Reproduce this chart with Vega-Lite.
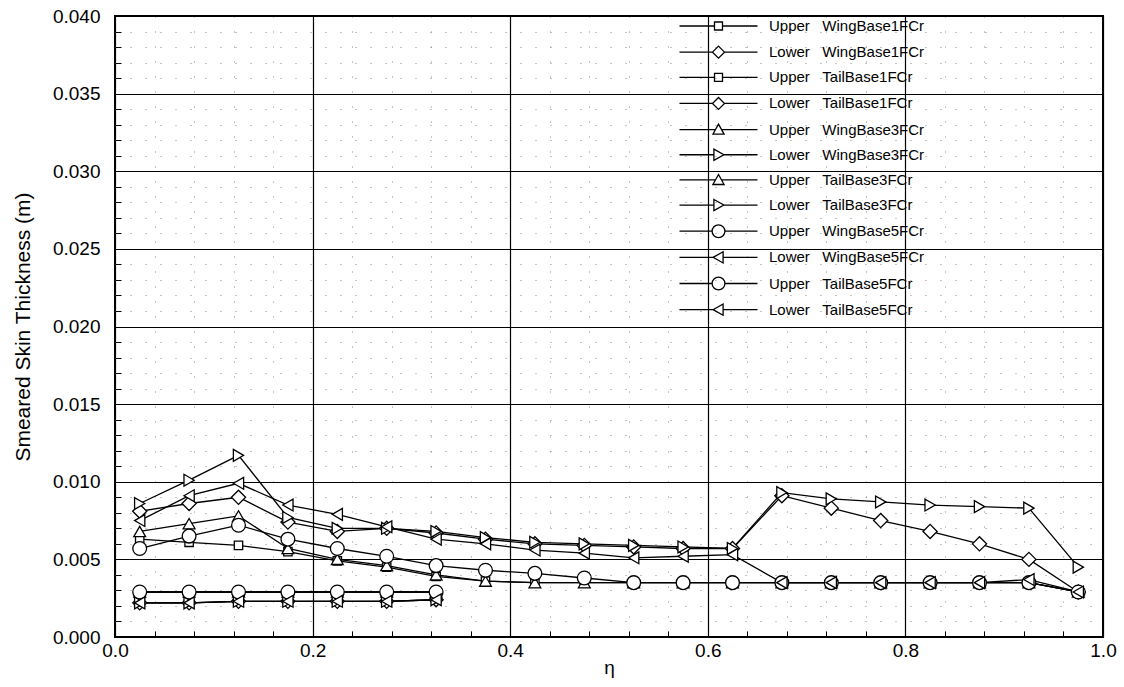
{
 "$schema": "https://vega.github.io/schema/vega-lite/v6.json",
 "width": 988, "height": 621,
 "autosize": {"type": "none"},
 "padding": {"left": 115, "top": 16, "right": 21, "bottom": 50},
 "background": "white",
 "config": {
  "font": "Liberation Sans",
  "view": {"stroke": "black", "strokeWidth": 2},
  "axis": {"labelColor": "black", "titleColor": "black", "titleFontWeight": "normal", "labelFlush": false}
 },
 "datasets": {
  "pts": [
   {"series":"Upper WingBase1FCr","eta":0.025,"thickness":0.0063},{"series":"Upper WingBase1FCr","eta":0.075,"thickness":0.0061},{"series":"Upper WingBase1FCr","eta":0.125,"thickness":0.0059},{"series":"Upper WingBase1FCr","eta":0.175,"thickness":0.0055},{"series":"Upper WingBase1FCr","eta":0.225,"thickness":0.0049},{"series":"Upper WingBase1FCr","eta":0.275,"thickness":0.0045},{"series":"Upper WingBase1FCr","eta":0.325,"thickness":0.0039},{"series":"Upper WingBase1FCr","eta":0.375,"thickness":0.0036},{"series":"Upper WingBase1FCr","eta":0.425,"thickness":0.0035},{"series":"Upper WingBase1FCr","eta":0.475,"thickness":0.0035},{"series":"Upper WingBase1FCr","eta":0.525,"thickness":0.0035},{"series":"Upper WingBase1FCr","eta":0.575,"thickness":0.0035},{"series":"Upper WingBase1FCr","eta":0.625,"thickness":0.0035},{"series":"Upper WingBase1FCr","eta":0.675,"thickness":0.0035},{"series":"Upper WingBase1FCr","eta":0.725,"thickness":0.0035},{"series":"Upper WingBase1FCr","eta":0.775,"thickness":0.0035},{"series":"Upper WingBase1FCr","eta":0.825,"thickness":0.0035},{"series":"Upper WingBase1FCr","eta":0.875,"thickness":0.0035},{"series":"Upper WingBase1FCr","eta":0.925,"thickness":0.0035},{"series":"Upper WingBase1FCr","eta":0.975,"thickness":0.0029},
   {"series":"Lower WingBase1FCr","eta":0.025,"thickness":0.0081},{"series":"Lower WingBase1FCr","eta":0.075,"thickness":0.0086},{"series":"Lower WingBase1FCr","eta":0.125,"thickness":0.0090},{"series":"Lower WingBase1FCr","eta":0.175,"thickness":0.0074},{"series":"Lower WingBase1FCr","eta":0.225,"thickness":0.0068},{"series":"Lower WingBase1FCr","eta":0.275,"thickness":0.0070},{"series":"Lower WingBase1FCr","eta":0.325,"thickness":0.0067},{"series":"Lower WingBase1FCr","eta":0.375,"thickness":0.0063},{"series":"Lower WingBase1FCr","eta":0.425,"thickness":0.0060},{"series":"Lower WingBase1FCr","eta":0.475,"thickness":0.0059},{"series":"Lower WingBase1FCr","eta":0.525,"thickness":0.0058},{"series":"Lower WingBase1FCr","eta":0.575,"thickness":0.0057},{"series":"Lower WingBase1FCr","eta":0.625,"thickness":0.0057},{"series":"Lower WingBase1FCr","eta":0.675,"thickness":0.0091},{"series":"Lower WingBase1FCr","eta":0.725,"thickness":0.0083},{"series":"Lower WingBase1FCr","eta":0.775,"thickness":0.0075},{"series":"Lower WingBase1FCr","eta":0.825,"thickness":0.0068},{"series":"Lower WingBase1FCr","eta":0.875,"thickness":0.0060},{"series":"Lower WingBase1FCr","eta":0.925,"thickness":0.0050},{"series":"Lower WingBase1FCr","eta":0.975,"thickness":0.0029},
   {"series":"Upper TailBase1FCr","eta":0.025,"thickness":0.0029},{"series":"Upper TailBase1FCr","eta":0.075,"thickness":0.0029},{"series":"Upper TailBase1FCr","eta":0.125,"thickness":0.0029},{"series":"Upper TailBase1FCr","eta":0.175,"thickness":0.0029},{"series":"Upper TailBase1FCr","eta":0.225,"thickness":0.0029},{"series":"Upper TailBase1FCr","eta":0.275,"thickness":0.0029},{"series":"Upper TailBase1FCr","eta":0.325,"thickness":0.0029},
   {"series":"Lower TailBase1FCr","eta":0.025,"thickness":0.0022},{"series":"Lower TailBase1FCr","eta":0.075,"thickness":0.0022},{"series":"Lower TailBase1FCr","eta":0.125,"thickness":0.0023},{"series":"Lower TailBase1FCr","eta":0.175,"thickness":0.0023},{"series":"Lower TailBase1FCr","eta":0.225,"thickness":0.0023},{"series":"Lower TailBase1FCr","eta":0.275,"thickness":0.0023},{"series":"Lower TailBase1FCr","eta":0.325,"thickness":0.0024},
   {"series":"Upper WingBase3FCr","eta":0.025,"thickness":0.0068},{"series":"Upper WingBase3FCr","eta":0.075,"thickness":0.0073},{"series":"Upper WingBase3FCr","eta":0.125,"thickness":0.0078},{"series":"Upper WingBase3FCr","eta":0.175,"thickness":0.0057},{"series":"Upper WingBase3FCr","eta":0.225,"thickness":0.0050},{"series":"Upper WingBase3FCr","eta":0.275,"thickness":0.0046},{"series":"Upper WingBase3FCr","eta":0.325,"thickness":0.0040},{"series":"Upper WingBase3FCr","eta":0.375,"thickness":0.0036},{"series":"Upper WingBase3FCr","eta":0.425,"thickness":0.0035},{"series":"Upper WingBase3FCr","eta":0.475,"thickness":0.0035},{"series":"Upper WingBase3FCr","eta":0.525,"thickness":0.0035},{"series":"Upper WingBase3FCr","eta":0.575,"thickness":0.0035},{"series":"Upper WingBase3FCr","eta":0.625,"thickness":0.0035},{"series":"Upper WingBase3FCr","eta":0.675,"thickness":0.0035},{"series":"Upper WingBase3FCr","eta":0.725,"thickness":0.0035},{"series":"Upper WingBase3FCr","eta":0.775,"thickness":0.0035},{"series":"Upper WingBase3FCr","eta":0.825,"thickness":0.0035},{"series":"Upper WingBase3FCr","eta":0.875,"thickness":0.0035},{"series":"Upper WingBase3FCr","eta":0.925,"thickness":0.0035},{"series":"Upper WingBase3FCr","eta":0.975,"thickness":0.0029},
   {"series":"Lower WingBase3FCr","eta":0.025,"thickness":0.0086},{"series":"Lower WingBase3FCr","eta":0.075,"thickness":0.0101},{"series":"Lower WingBase3FCr","eta":0.125,"thickness":0.0117},{"series":"Lower WingBase3FCr","eta":0.175,"thickness":0.0077},{"series":"Lower WingBase3FCr","eta":0.225,"thickness":0.0070},{"series":"Lower WingBase3FCr","eta":0.275,"thickness":0.0070},{"series":"Lower WingBase3FCr","eta":0.325,"thickness":0.0068},{"series":"Lower WingBase3FCr","eta":0.375,"thickness":0.0064},{"series":"Lower WingBase3FCr","eta":0.425,"thickness":0.0061},{"series":"Lower WingBase3FCr","eta":0.475,"thickness":0.0060},{"series":"Lower WingBase3FCr","eta":0.525,"thickness":0.0059},{"series":"Lower WingBase3FCr","eta":0.575,"thickness":0.0058},{"series":"Lower WingBase3FCr","eta":0.625,"thickness":0.0057},{"series":"Lower WingBase3FCr","eta":0.675,"thickness":0.0093},{"series":"Lower WingBase3FCr","eta":0.725,"thickness":0.0089},{"series":"Lower WingBase3FCr","eta":0.775,"thickness":0.0087},{"series":"Lower WingBase3FCr","eta":0.825,"thickness":0.0085},{"series":"Lower WingBase3FCr","eta":0.875,"thickness":0.0084},{"series":"Lower WingBase3FCr","eta":0.925,"thickness":0.0083},{"series":"Lower WingBase3FCr","eta":0.975,"thickness":0.0045},
   {"series":"Upper TailBase3FCr","eta":0.025,"thickness":0.0029},{"series":"Upper TailBase3FCr","eta":0.075,"thickness":0.0029},{"series":"Upper TailBase3FCr","eta":0.125,"thickness":0.0029},{"series":"Upper TailBase3FCr","eta":0.175,"thickness":0.0029},{"series":"Upper TailBase3FCr","eta":0.225,"thickness":0.0029},{"series":"Upper TailBase3FCr","eta":0.275,"thickness":0.0029},{"series":"Upper TailBase3FCr","eta":0.325,"thickness":0.0029},
   {"series":"Lower TailBase3FCr","eta":0.025,"thickness":0.0022},{"series":"Lower TailBase3FCr","eta":0.075,"thickness":0.0022},{"series":"Lower TailBase3FCr","eta":0.125,"thickness":0.0023},{"series":"Lower TailBase3FCr","eta":0.175,"thickness":0.0023},{"series":"Lower TailBase3FCr","eta":0.225,"thickness":0.0023},{"series":"Lower TailBase3FCr","eta":0.275,"thickness":0.0023},{"series":"Lower TailBase3FCr","eta":0.325,"thickness":0.0024},
   {"series":"Upper WingBase5FCr","eta":0.025,"thickness":0.0057},{"series":"Upper WingBase5FCr","eta":0.075,"thickness":0.0065},{"series":"Upper WingBase5FCr","eta":0.125,"thickness":0.0072},{"series":"Upper WingBase5FCr","eta":0.175,"thickness":0.0063},{"series":"Upper WingBase5FCr","eta":0.225,"thickness":0.0057},{"series":"Upper WingBase5FCr","eta":0.275,"thickness":0.0052},{"series":"Upper WingBase5FCr","eta":0.325,"thickness":0.0046},{"series":"Upper WingBase5FCr","eta":0.375,"thickness":0.0043},{"series":"Upper WingBase5FCr","eta":0.425,"thickness":0.0041},{"series":"Upper WingBase5FCr","eta":0.475,"thickness":0.0038},{"series":"Upper WingBase5FCr","eta":0.525,"thickness":0.0035},{"series":"Upper WingBase5FCr","eta":0.575,"thickness":0.0035},{"series":"Upper WingBase5FCr","eta":0.625,"thickness":0.0035},{"series":"Upper WingBase5FCr","eta":0.675,"thickness":0.0035},{"series":"Upper WingBase5FCr","eta":0.725,"thickness":0.0035},{"series":"Upper WingBase5FCr","eta":0.775,"thickness":0.0035},{"series":"Upper WingBase5FCr","eta":0.825,"thickness":0.0035},{"series":"Upper WingBase5FCr","eta":0.875,"thickness":0.0035},{"series":"Upper WingBase5FCr","eta":0.925,"thickness":0.0035},{"series":"Upper WingBase5FCr","eta":0.975,"thickness":0.0029},
   {"series":"Lower WingBase5FCr","eta":0.025,"thickness":0.0075},{"series":"Lower WingBase5FCr","eta":0.075,"thickness":0.0091},{"series":"Lower WingBase5FCr","eta":0.125,"thickness":0.0099},{"series":"Lower WingBase5FCr","eta":0.175,"thickness":0.0085},{"series":"Lower WingBase5FCr","eta":0.225,"thickness":0.0079},{"series":"Lower WingBase5FCr","eta":0.275,"thickness":0.0071},{"series":"Lower WingBase5FCr","eta":0.325,"thickness":0.0063},{"series":"Lower WingBase5FCr","eta":0.375,"thickness":0.0060},{"series":"Lower WingBase5FCr","eta":0.425,"thickness":0.0056},{"series":"Lower WingBase5FCr","eta":0.475,"thickness":0.0054},{"series":"Lower WingBase5FCr","eta":0.525,"thickness":0.0051},{"series":"Lower WingBase5FCr","eta":0.575,"thickness":0.0052},{"series":"Lower WingBase5FCr","eta":0.625,"thickness":0.0053},{"series":"Lower WingBase5FCr","eta":0.675,"thickness":0.0035},{"series":"Lower WingBase5FCr","eta":0.725,"thickness":0.0035},{"series":"Lower WingBase5FCr","eta":0.775,"thickness":0.0035},{"series":"Lower WingBase5FCr","eta":0.825,"thickness":0.0035},{"series":"Lower WingBase5FCr","eta":0.875,"thickness":0.0035},{"series":"Lower WingBase5FCr","eta":0.925,"thickness":0.0037},{"series":"Lower WingBase5FCr","eta":0.975,"thickness":0.0029},
   {"series":"Upper TailBase5FCr","eta":0.025,"thickness":0.0029},{"series":"Upper TailBase5FCr","eta":0.075,"thickness":0.0029},{"series":"Upper TailBase5FCr","eta":0.125,"thickness":0.0029},{"series":"Upper TailBase5FCr","eta":0.175,"thickness":0.0029},{"series":"Upper TailBase5FCr","eta":0.225,"thickness":0.0029},{"series":"Upper TailBase5FCr","eta":0.275,"thickness":0.0029},{"series":"Upper TailBase5FCr","eta":0.325,"thickness":0.0029},
   {"series":"Lower TailBase5FCr","eta":0.025,"thickness":0.0022},{"series":"Lower TailBase5FCr","eta":0.075,"thickness":0.0022},{"series":"Lower TailBase5FCr","eta":0.125,"thickness":0.0023},{"series":"Lower TailBase5FCr","eta":0.175,"thickness":0.0023},{"series":"Lower TailBase5FCr","eta":0.225,"thickness":0.0023},{"series":"Lower TailBase5FCr","eta":0.275,"thickness":0.0023},{"series":"Lower TailBase5FCr","eta":0.325,"thickness":0.0024}
  ]
 },
 "data": {"name": "pts"},
 "layer": [
  {
   "mark": {"type": "line", "stroke": "black", "strokeWidth": 1.3},
   "encoding": {
    "x": {"field": "eta", "type": "quantitative", "scale": {"domain": [0, 1], "nice": false, "zero": false},
     "axis": {"orient": "bottom", "values": [0, 0.2, 0.4, 0.6, 0.8, 1], "format": ".1f", "grid": true, "gridColor": "black", "gridWidth": 1.2, "gridOpacity": 1, "ticks": false, "domain": false, "labelFontSize": 19, "labelPadding": 4, "title": "η", "titleFontSize": 19, "titlePadding": -2, "zindex": 0}},
    "y": {"field": "thickness", "type": "quantitative", "scale": {"domain": [0, 0.04], "nice": false, "zero": false},
     "axis": {"orient": "left", "values": [0, 0.005, 0.01, 0.015, 0.02, 0.025, 0.03, 0.035, 0.04], "format": ".3f", "grid": true, "gridColor": "black", "gridWidth": 1.2, "gridOpacity": 1, "ticks": false, "domain": false, "labelFontSize": 19, "labelPadding": 15, "title": "Smeared Skin Thickness (m)", "titleFontSize": 21, "titlePadding": 19, "zindex": 0}},
    "detail": {"field": "series", "type": "nominal"}
   }
  },
  {
   "transform": [{"filter": "indexof(datum.series, 'Upper') === 0 && indexof(datum.series, '1FCr') >= 0"}],
   "mark": {"type": "point", "filled": true, "fill": "white", "stroke": "black", "strokeWidth": 1.3, "opacity": 1, "size": 70, "shape": "square"},
   "encoding": {
    "x": {"field": "eta", "type": "quantitative", "scale": {"domain": [0, 1], "nice": false, "zero": false},
     "axis": {"orient": "bottom", "values": [0.04, 0.08, 0.12, 0.16, 0.24, 0.28, 0.32, 0.36, 0.44, 0.48, 0.52, 0.56, 0.64, 0.68, 0.72, 0.76, 0.84, 0.88, 0.92, 0.96], "grid": true, "gridColor": "#8a8a8a", "gridDash": [1, 14], "gridWidth": 1, "ticks": true, "tickSize": -6, "tickColor": "black", "tickWidth": 1, "labels": false, "domain": false, "title": null, "zindex": 0}},
    "y": {"field": "thickness", "type": "quantitative", "scale": {"domain": [0, 0.04], "nice": false, "zero": false},
     "axis": {"orient": "left", "values": [0.001, 0.002, 0.003, 0.004, 0.006, 0.007, 0.008, 0.009, 0.011, 0.012, 0.013, 0.014, 0.016, 0.017, 0.018, 0.019, 0.021, 0.022, 0.023, 0.024, 0.026, 0.027, 0.028, 0.029, 0.031, 0.032, 0.033, 0.034, 0.036, 0.037, 0.038, 0.039], "grid": true, "gridColor": "#8a8a8a", "gridDash": [1, 14], "gridWidth": 1, "ticks": true, "tickSize": -6, "tickColor": "black", "tickWidth": 1, "labels": false, "domain": false, "title": null, "zindex": 0}},
    "detail": {"field": "series", "type": "nominal"}
   }
  },
  {
   "transform": [{"filter": "indexof(datum.series, 'Lower') === 0 && indexof(datum.series, '1FCr') >= 0"}],
   "mark": {"type": "point", "filled": true, "fill": "white", "stroke": "black", "strokeWidth": 1.3, "opacity": 1, "size": 200, "shape": "diamond"},
   "encoding": {
    "x": {"field": "eta", "type": "quantitative", "scale": {"domain": [0, 1], "nice": false, "zero": false}, "axis": null},
    "y": {"field": "thickness", "type": "quantitative", "scale": {"domain": [0, 0.04], "nice": false, "zero": false}, "axis": null},
    "detail": {"field": "series", "type": "nominal"}
   }
  },
  {
   "transform": [{"filter": "indexof(datum.series, 'Upper') === 0 && indexof(datum.series, '3FCr') >= 0"}],
   "mark": {"type": "point", "filled": true, "fill": "white", "stroke": "black", "strokeWidth": 1.3, "opacity": 1, "size": 140, "shape": "triangle-up"},
   "encoding": {
    "x": {"field": "eta", "type": "quantitative", "scale": {"domain": [0, 1], "nice": false, "zero": false}, "axis": null},
    "y": {"field": "thickness", "type": "quantitative", "scale": {"domain": [0, 0.04], "nice": false, "zero": false}, "axis": null},
    "detail": {"field": "series", "type": "nominal"}
   }
  },
  {
   "transform": [{"filter": "indexof(datum.series, 'Lower') === 0 && indexof(datum.series, '3FCr') >= 0"}],
   "mark": {"type": "point", "filled": true, "fill": "white", "stroke": "black", "strokeWidth": 1.3, "opacity": 1, "size": 140, "shape": "triangle-right"},
   "encoding": {
    "x": {"field": "eta", "type": "quantitative", "scale": {"domain": [0, 1], "nice": false, "zero": false}, "axis": null},
    "y": {"field": "thickness", "type": "quantitative", "scale": {"domain": [0, 0.04], "nice": false, "zero": false}, "axis": null},
    "detail": {"field": "series", "type": "nominal"}
   }
  },
  {
   "transform": [{"filter": "indexof(datum.series, 'Upper') === 0 && indexof(datum.series, '5FCr') >= 0"}],
   "mark": {"type": "point", "filled": true, "fill": "white", "stroke": "black", "strokeWidth": 1.3, "opacity": 1, "size": 190, "shape": "circle"},
   "encoding": {
    "x": {"field": "eta", "type": "quantitative", "scale": {"domain": [0, 1], "nice": false, "zero": false}, "axis": null},
    "y": {"field": "thickness", "type": "quantitative", "scale": {"domain": [0, 0.04], "nice": false, "zero": false}, "axis": null},
    "detail": {"field": "series", "type": "nominal"}
   }
  },
  {
   "transform": [{"filter": "indexof(datum.series, 'Lower') === 0 && indexof(datum.series, '5FCr') >= 0"}],
   "mark": {"type": "point", "filled": true, "fill": "white", "stroke": "black", "strokeWidth": 1.3, "opacity": 1, "size": 140, "shape": "triangle-left"},
   "encoding": {
    "x": {"field": "eta", "type": "quantitative", "scale": {"domain": [0, 1], "nice": false, "zero": false}, "axis": null},
    "y": {"field": "thickness", "type": "quantitative", "scale": {"domain": [0, 0.04], "nice": false, "zero": false}, "axis": null},
    "detail": {"field": "series", "type": "nominal"}
   }
  },
  {
   "transform": [{"filter": "false"}],
   "mark": {"type": "point", "filled": false, "stroke": "black", "strokeWidth": 1.3, "opacity": 1, "size": 16},
   "encoding": {
    "x": {"field": "eta", "type": "quantitative", "scale": {"domain": [0, 1], "nice": false, "zero": false}, "axis": null},
    "y": {"field": "thickness", "type": "quantitative", "scale": {"domain": [0, 0.04], "nice": false, "zero": false}, "axis": null},
    "shape": {"field": "series", "type": "nominal",
     "scale": {"domain": ["Upper WingBase1FCr", "Lower WingBase1FCr", "Upper TailBase1FCr", "Lower TailBase1FCr", "Upper WingBase3FCr", "Lower WingBase3FCr", "Upper TailBase3FCr", "Lower TailBase3FCr", "Upper WingBase5FCr", "Lower WingBase5FCr", "Upper TailBase5FCr", "Lower TailBase5FCr"],
      "range": ["M-19.5,0L-2,0M2,0L19.5,0M-2,-2L2,-2L2,2L-2,2Z", "M-19.5,0L-3,0M3,0L19.5,0M-3,0L0,-3L3,0L0,3Z", "M-19.5,0L-2,0M2,0L19.5,0M-2,-2L2,-2L2,2L-2,2Z", "M-19.5,0L-3,0M3,0L19.5,0M-3,0L0,-3L3,0L0,3Z", "M-19.5,0L-1.6,0M1.6,0L19.5,0M-2.8,2.3L0,-2.7L2.8,2.3Z", "M-19.5,0L-2.3,0M2.7,0L19.5,0M-2.3,-2.8L2.7,0L-2.3,2.8Z", "M-19.5,0L-1.6,0M1.6,0L19.5,0M-2.8,2.3L0,-2.7L2.8,2.3Z", "M-19.5,0L-2.3,0M2.7,0L19.5,0M-2.3,-2.8L2.7,0L-2.3,2.8Z", "M-19.5,0L-3.2,0M3.2,0L19.5,0M3.2,0A3.2,3.2,0,1,1,-3.2,0A3.2,3.2,0,1,1,3.2,0Z", "M-19.5,0L-2.7,0M2.3,0L19.5,0M2.3,-2.8L-2.7,0L2.3,2.8Z", "M-19.5,0L-3.2,0M3.2,0L19.5,0M3.2,0A3.2,3.2,0,1,1,-3.2,0A3.2,3.2,0,1,1,3.2,0Z", "M-19.5,0L-2.7,0M2.3,0L19.5,0M2.3,-2.8L-2.7,0L2.3,2.8Z"]},
     "legend": {"orient": "none", "legendX": 596, "legendY": 2.5, "title": null, "padding": 0, "labelFontSize": 15, "labelColor": "black", "labelOffset": 43, "labelLimit": 400, "rowPadding": 8.15, "symbolSize": 16, "symbolStrokeWidth": 1.3,
      "labelExpr": "replace(datum.label, ' ', '\u00a0\u00a0\u00a0')"}}
   }
  }
 ],
 "resolve": {"axis": {"x": "independent", "y": "independent"}}
}
